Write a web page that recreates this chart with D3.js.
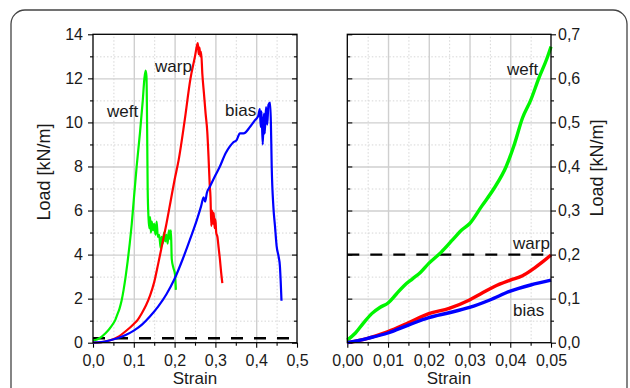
<!DOCTYPE html>
<html>
<head>
<meta charset="utf-8">
<script src="https://cdn.jsdelivr.net/npm/d3@7"></script>
<style>
body { margin: 0; background: #fff; }
text { font-family: Arial, "Liberation Sans", sans-serif; fill: #1a1a1a; }
.grid line { stroke: #cfcfcf; stroke-width: 1.4; }
.minor line { stroke: #d6d6d6; stroke-width: 1; stroke-dasharray: 1.5, 2; }
.grid path, .minor path, .axis path { display: none; }
.axis line { stroke: #000; stroke-width: 1.1; }
</style>
</head>
<body>
<div id="chart"></div>
<script>
// full range curves  [strain, load kN/m]
var weftFull = [[0, 0.1], [0.01, 0.15], [0.02, 0.25], [0.03, 0.42], [0.04, 0.62], [0.05, 0.88], [0.055, 1.05],
    [0.06, 1.3], [0.065, 1.55], [0.07, 1.9], [0.075, 2.4], [0.08, 3.0], [0.085, 3.7], [0.09, 4.5],
    [0.095, 5.4], [0.1, 6.5], [0.107, 8.0], [0.115, 9.5], [0.122, 11.0], [0.126, 12.0], [0.129, 12.35],
    [0.131, 12.1], [0.132, 11.0], [0.133, 9.0], [0.134, 7.0],
    [0.136, 5.7], [0.138, 5.2], [0.14, 5.7], [0.142, 5.0], [0.144, 5.5], [0.147, 5.1], [0.15, 5.4],
    [0.153, 4.9], [0.156, 5.5], [0.159, 4.8], [0.162, 4.9], [0.164, 4.6], [0.166, 4.3], [0.168, 4.8],
    [0.171, 4.5], [0.174, 5.0], [0.177, 4.6], [0.18, 4.9], [0.183, 4.5], [0.186, 5.1], [0.189, 4.7],
    [0.191, 5.1], [0.193, 3.8], [0.197, 3.4], [0.201, 3.1], [0.203, 2.4]];

var warpFull = [[0, 0], [0.02, 0.02], [0.04, 0.1], [0.06, 0.25], [0.08, 0.52], [0.1, 0.85], [0.11, 1.05],
    [0.12, 1.35], [0.13, 1.7], [0.14, 2.15], [0.15, 2.75], [0.16, 3.6], [0.17, 4.5], [0.18, 5.4],
    [0.19, 6.4], [0.2, 7.4], [0.21, 8.3], [0.224, 10.0], [0.239, 12.0],
    [0.25, 13.0], [0.255, 13.5], [0.257, 13.6], [0.259, 13.1], [0.261, 13.4], [0.263, 13.0], [0.265, 13.2],
    [0.268, 12.2], [0.272, 11.3], [0.276, 10.4], [0.28, 9.6], [0.283, 8.5], [0.286, 7.2], [0.288, 6.6],
    [0.29, 5.3], [0.292, 6.0], [0.294, 5.4], [0.296, 5.9], [0.298, 5.2], [0.3, 5.6], [0.302, 5.0],
    [0.305, 4.8], [0.308, 4.3], [0.311, 3.8], [0.314, 3.2], [0.317, 2.7]];

var biasFull = [[0, 0], [0.02, 0.03], [0.04, 0.1], [0.06, 0.2], [0.08, 0.35], [0.1, 0.55], [0.12, 0.82],
    [0.14, 1.2], [0.16, 1.65], [0.18, 2.2], [0.2, 2.9], [0.22, 3.8], [0.24, 4.8], [0.255, 5.6],
    [0.265, 6.2], [0.271, 6.6],
    [0.275, 6.4], [0.279, 6.8], [0.287, 7.1], [0.3, 7.6], [0.311, 8.0], [0.325, 8.6], [0.335, 8.9],
    [0.344, 9.1], [0.352, 9.2], [0.36, 9.5], [0.369, 9.5], [0.385, 9.8], [0.397, 10.1], [0.405, 10.3],
    [0.409, 10.6], [0.411, 9.8], [0.413, 10.5], [0.416, 9.0], [0.419, 10.4], [0.421, 9.5], [0.424, 10.7],
    [0.427, 9.9], [0.43, 10.8], [0.434, 10.9], [0.436, 10.0], [0.438, 8.0], [0.442, 6.2], [0.446, 5.3],
    [0.45, 4.4], [0.455, 3.9], [0.458, 3.5], [0.46, 2.8], [0.462, 1.9]];

// zoom on the initial part
var weftZoom = [[0, 0.006], [0.002, 0.022], [0.004, 0.045], [0.006, 0.066], [0.008, 0.08], [0.01, 0.09],
    [0.012, 0.11], [0.014, 0.13], [0.016, 0.145], [0.018, 0.16], [0.02, 0.18], [0.023, 0.205],
    [0.026, 0.235], [0.028, 0.255], [0.03, 0.27], [0.033, 0.31], [0.036, 0.35], [0.039, 0.4],
    [0.041, 0.45], [0.043, 0.51], [0.045, 0.55], [0.047, 0.6], [0.049, 0.645], [0.05, 0.672]];

var warpZoom = [[0, 0], [0.005, 0.01], [0.01, 0.025], [0.015, 0.045], [0.02, 0.066], [0.025, 0.078],
    [0.03, 0.097], [0.033, 0.112], [0.036, 0.127], [0.04, 0.142], [0.043, 0.152], [0.046, 0.17],
    [0.048, 0.184], [0.05, 0.199]];

var biasZoom = [[0, 0], [0.005, 0.01], [0.01, 0.022], [0.015, 0.04], [0.02, 0.057], [0.025, 0.068],
    [0.03, 0.08], [0.035, 0.097], [0.04, 0.117], [0.045, 0.131], [0.05, 0.142]];

var fullXTicks = [0, 0.1, 0.2, 0.3, 0.4, 0.5];
var fullXMinor = [0.05, 0.15, 0.25, 0.35, 0.45];
var fullYTicks = [0, 2, 4, 6, 8, 10, 12, 14];
var fullYMinor = [1, 3, 5, 7, 9, 11, 13];
var zoomXTicks = [0, 0.01, 0.02, 0.03, 0.04, 0.05];
var zoomXMinor = [0.005, 0.015, 0.025, 0.035, 0.045];
var zoomYTicks = [0, 0.1, 0.2, 0.3, 0.4, 0.5, 0.6, 0.7];
var zoomYMinor = [0.05, 0.15, 0.25, 0.35, 0.45, 0.55, 0.65];
var limitLoad = 0.2;

var loc = d3.formatLocale({decimal: ",", thousands: ".", grouping: [3], currency: ["", ""]});

var svg = d3.select("#chart").append("svg")
    .attr("width", 630)
    .attr("height", 388);

// outer rounded box
svg.append("rect")
    .attr("x", 11).attr("y", 10)
    .attr("width", 616).attr("height", 420)
    .attr("rx", 14)
    .attr("fill", "none")
    .attr("stroke", "#444")
    .attr("stroke-width", 1.3);

function panel(left, right, xDom, yDom, xt, xm, yt, ym, xf, yf, labelsRight) {
    var top = 34.3, bottom = 342.7,
        w = right - left, h = bottom - top;
    var x = d3.scaleLinear().domain(xDom).range([0, w]);
    var y = d3.scaleLinear().domain(yDom).range([h, 0]);
    var g = svg.append("g").attr("transform", "translate(" + left + "," + top + ")");

    // minor + major grid
    g.append("g").attr("class", "minor")
        .call(d3.axisLeft(y).tickValues(ym).tickSize(-w).tickFormat(""));
    g.append("g").attr("class", "minor")
        .attr("transform", "translate(0," + h + ")")
        .call(d3.axisBottom(x).tickValues(xm).tickSize(-h).tickFormat(""));
    g.append("g").attr("class", "grid")
        .call(d3.axisLeft(y).tickValues(yt.slice(1, -1)).tickSize(-w).tickFormat(""));
    g.append("g").attr("class", "grid")
        .attr("transform", "translate(0," + h + ")")
        .call(d3.axisBottom(x).tickValues(xt.slice(1, -1)).tickSize(-h).tickFormat(""));

    // bottom axis
    var bx = g.append("g").attr("class", "axis")
        .attr("transform", "translate(0," + h + ")");
    bx.call(d3.axisBottom(x).tickValues(xt).tickSize(5).tickPadding(7).tickFormat(loc.format(xf)));
    bx.append("g").call(d3.axisBottom(x).tickValues(xm).tickSize(3).tickFormat(""));

    var labelled, mirror;
    if (labelsRight) {
        labelled = g.append("g").attr("class", "axis").attr("transform", "translate(" + w + ",0)");
        labelled.call(d3.axisRight(y).tickValues(yt).tickSize(5).tickPadding(2).tickFormat(loc.format(yf)));
        labelled.append("g").call(d3.axisRight(y).tickValues(ym).tickSize(3).tickFormat(""));
        mirror = g.append("g").attr("class", "axis");
        mirror.call(d3.axisRight(y).tickValues(yt).tickSize(5).tickFormat(""));
        mirror.append("g").call(d3.axisRight(y).tickValues(ym).tickSize(3).tickFormat(""));
    } else {
        labelled = g.append("g").attr("class", "axis");
        labelled.call(d3.axisLeft(y).tickValues(yt).tickSize(5).tickPadding(5).tickFormat(loc.format(yf)));
        labelled.append("g").call(d3.axisLeft(y).tickValues(ym).tickSize(3).tickFormat(""));
        mirror = g.append("g").attr("class", "axis").attr("transform", "translate(" + w + ",0)");
        mirror.call(d3.axisLeft(y).tickValues(yt).tickSize(5).tickFormat(""));
        mirror.append("g").call(d3.axisLeft(y).tickValues(ym).tickSize(3).tickFormat(""));
    }
    g.selectAll(".axis text").style("font-size", "16px").style("font-family", "Arial, 'Liberation Sans', sans-serif").attr("fill", "#1a1a1a");

    return {g: g, x: x, y: y, w: w, h: h};
}

function curve(p, data, color, width) {
    var line = d3.line()
        .curve(d3.curveMonotoneX)
        .x(function (d) { return p.x(d[0]); })
        .y(function (d) { return p.y(d[1]); });
    p.g.append("path")
        .datum(data)
        .attr("d", line)
        .attr("fill", "none")
        .attr("stroke", color)
        .attr("stroke-width", width)
        .attr("stroke-linejoin", "round");
}

function dashed(p) {
    p.g.append("line")
        .attr("x1", 0).attr("x2", p.w)
        .attr("y1", p.y(limitLoad)).attr("y2", p.y(limitLoad))
        .attr("stroke", "#000")
        .attr("stroke-width", 2.4)
        .attr("stroke-dasharray", "12,11");
}

function frame(p) {
    p.g.append("rect")
        .attr("width", p.w).attr("height", p.h)
        .attr("fill", "none")
        .attr("stroke", "#000")
        .attr("stroke-width", 1.3);
}

function label(p, txt, x, y) {
    p.g.append("text")
        .attr("x", x).attr("y", y)
        .style("font-size", "17px")
        .text(txt);
}

// left: complete curves
var pl = panel(93, 297, [0, 0.5], [0, 14], fullXTicks, fullXMinor, fullYTicks, fullYMinor, ".1f", "d", false);
dashed(pl);
curve(pl, weftFull, "#00f500", 2.2);
curve(pl, warpFull, "#ff0000", 2.2);
curve(pl, biasFull, "#0000ff", 2.2);
frame(pl);
label(pl, "weft", 107 - 93, 117 - 34.3);
label(pl, "warp", 155 - 93, 72 - 34.3);
label(pl, "bias", 225 - 93, 116 - 34.3);

// right: initial part
var pr = panel(347.3, 551, [0, 0.05], [0, 0.7], zoomXTicks, zoomXMinor, zoomYTicks, zoomYMinor, ".2f", ".1f", true);
dashed(pr);
curve(pr, weftZoom, "#00f500", 3.4);
curve(pr, warpZoom, "#ff0000", 3.4);
curve(pr, biasZoom, "#0000ff", 3.4);
frame(pr);
label(pr, "weft", 507 - 347.3, 75 - 34.3);
label(pr, "warp", 513 - 347.3, 249 - 34.3);
label(pr, "bias", 513 - 347.3, 316 - 34.3);

// axis titles
svg.append("text")
    .attr("text-anchor", "middle")
    .attr("transform", "translate(50,172)rotate(-90)")
    .style("font-size", "18px")
    .text("Load [kN/m]");
svg.append("text")
    .attr("text-anchor", "middle")
    .attr("transform", "translate(603,168)rotate(-90)")
    .style("font-size", "18px")
    .text("Load [kN/m]");
svg.append("text")
    .attr("text-anchor", "middle")
    .attr("x", 195).attr("y", 383.5)
    .style("font-size", "17px")
    .text("Strain");
svg.append("text")
    .attr("text-anchor", "middle")
    .attr("x", 449).attr("y", 383.5)
    .style("font-size", "17px")
    .text("Strain");
</script>
</body>
</html>
